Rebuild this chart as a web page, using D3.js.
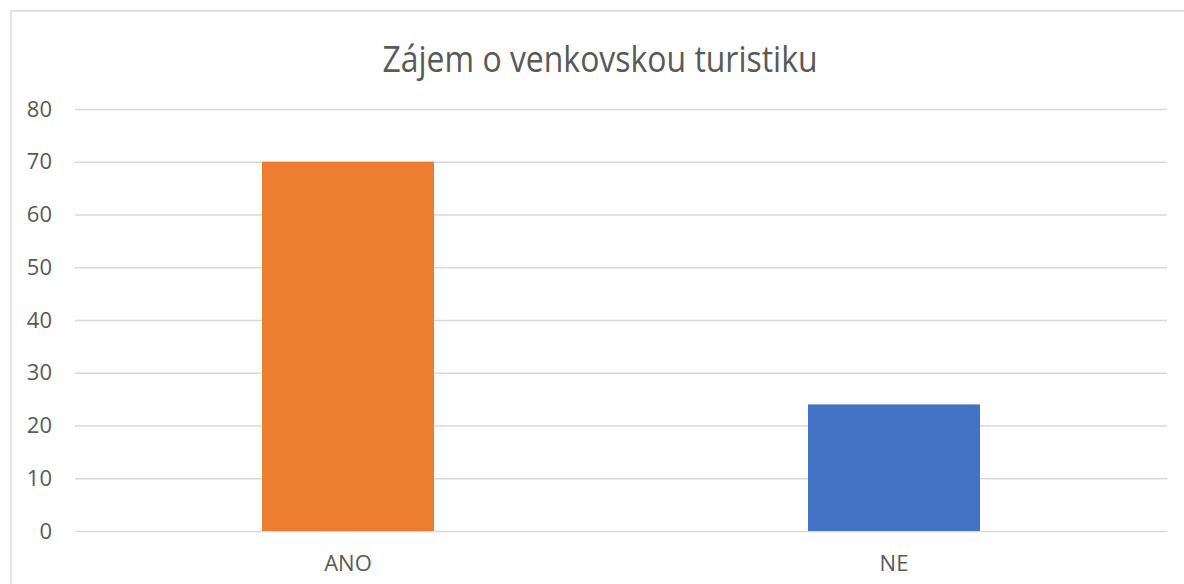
<!DOCTYPE html>
<html>
<head>
<meta charset="utf-8">
<script src="https://cdn.jsdelivr.net/npm/d3@7"></script>
<style>
  body { margin: 0; background: #fff; }
  text { font-family: "Open Sans", sans-serif; fill: #595959; }
</style>
</head>
<body>
<script>
var w = 1184;
var h = 584;

var categories = ["ANO", "NE"];
var values = [70, 24];
var colors = ["#ED7D31", "#4472C4"];
var yTicks = [0, 10, 20, 30, 40, 50, 60, 70, 80];
var title = "Zájem o venkovskou turistiku";

// plot area edges (note: "top" is a reserved window global, so use other names)
var plotLeft = 75, plotRight = 1167, plotTop = 109, plotBottom = 531;

var svg = d3.select("body")
    .append("svg")
    .attr("width", w)
    .attr("height", h);

// chart border (only left and top visible in the crop)
svg.append("rect")
    .attr("x", 11)
    .attr("y", 11)
    .attr("width", w + 20)
    .attr("height", h + 20)
    .attr("fill", "none")
    .attr("stroke", "#d9d9d9")
    .attr("stroke-width", 1.5);

var xScale = d3.scaleBand()
    .domain(categories)
    .range([plotLeft, plotRight])
    .paddingInner(0.685)
    .paddingOuter(0.3425);

var yScale = d3.scaleLinear()
    .domain([0, 80])
    .range([plotBottom, plotTop]);

var yAxis = d3.axisLeft(yScale)
    .tickValues(yTicks)
    .tickSize(-(plotRight - plotLeft))
    .tickPadding(23);

var gy = svg.append("g")
    .attr("transform", "translate(" + plotLeft + ",0)")
    .call(yAxis);
gy.select(".domain").remove();
gy.selectAll(".tick line")
    .attr("stroke", "#d9d9d9")
    .attr("stroke-width", 1.5);
gy.selectAll(".tick text")
    .attr("font-size", 22)
    .attr("font-family", "Open Sans, sans-serif")
    .attr("fill", "#595959");

svg.selectAll(".bar")
    .data(values)
    .enter()
    .append("rect")
    .attr("class", "bar")
    .attr("x", function(d, i) { return xScale(categories[i]); })
    .attr("y", function(d) { return yScale(d); })
    .attr("width", xScale.bandwidth())
    .attr("height", function(d) { return yScale(0) - yScale(d); })
    .attr("fill", function(d, i) { return colors[i]; });

var xAxis = d3.axisBottom(xScale)
    .tickSize(0)
    .tickPadding(24);

var gx = svg.append("g")
    .attr("transform", "translate(0," + plotBottom + ")")
    .call(xAxis);
gx.select(".domain").remove();
gx.selectAll(".tick text")
    .attr("font-size", 22)
    .attr("font-family", "Open Sans, sans-serif")
    .attr("fill", "#595959");

svg.append("text")
    .attr("x", 600)
    .attr("y", 72)
    .attr("text-anchor", "middle")
    .attr("font-size", 37)
    .attr("textLength", 435)
    .attr("lengthAdjust", "spacingAndGlyphs")
    .text(title);
</script>
</body>
</html>
